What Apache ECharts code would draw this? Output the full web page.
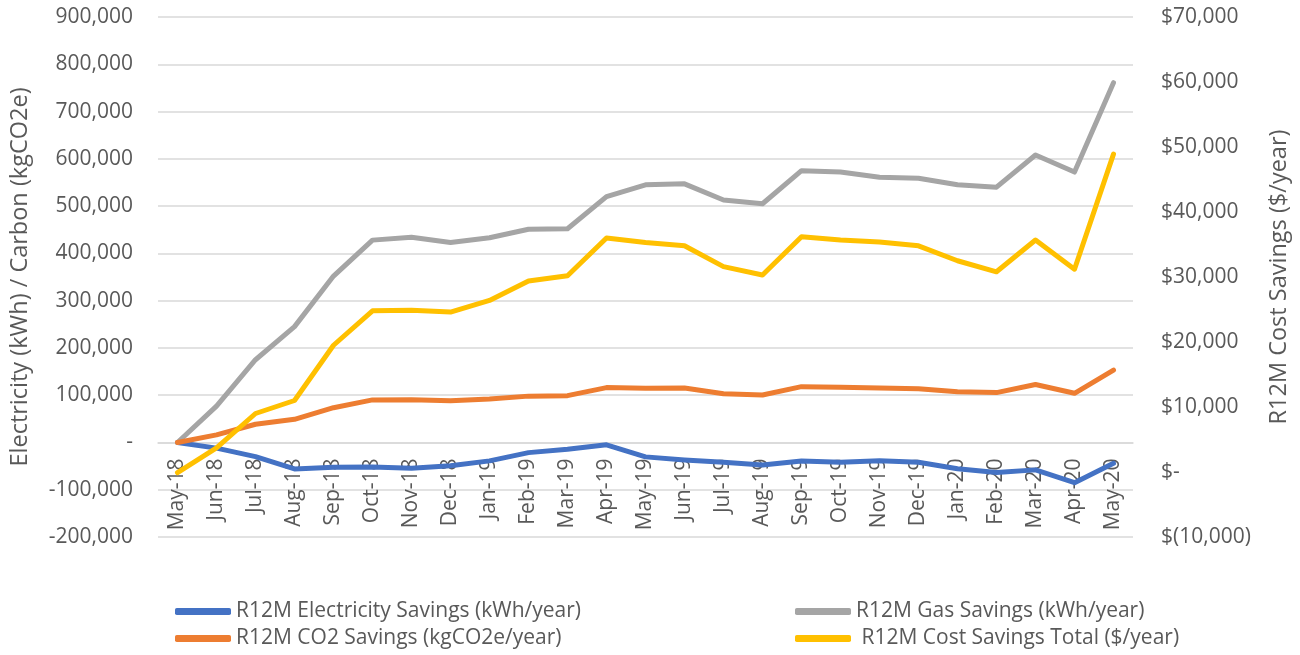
<!DOCTYPE html>
<html>
<head>
<meta charset="utf-8">
<script src="https://cdn.jsdelivr.net/npm/echarts@6/dist/echarts.min.js"></script>
<style>
  html, body { margin: 0; padding: 0; background: #fff; }
  #chart { width: 1300px; height: 655px; }
</style>
</head>
<body>
<div id="chart"></div>
<script>
// months on the x axis
const months = ["May-18", "Jun-18", "Jul-18", "Aug-18", "Sep-18", "Oct-18", "Nov-18", "Dec-18",
  "Jan-19", "Feb-19", "Mar-19", "Apr-19", "May-19", "Jun-19", "Jul-19", "Aug-19", "Sep-19",
  "Oct-19", "Nov-19", "Dec-19", "Jan-20", "Feb-20", "Mar-20", "Apr-20", "May-20"];

// kWh/year
const elecSavings = [0, -12000, -30000, -56000, -52500, -52000, -54500, -49500, -39000, -21500,
  -14500, -5000, -30500, -37000, -42000, -47500, -39000, -42000, -38500, -42000, -55500, -63500,
  -58000, -85000, -44000];
// kWh/year
const gasSavings = [0, 77000, 175000, 245000, 352000, 428000, 434000, 423000, 433000, 451000,
  452000, 520000, 545000, 547000, 513000, 505000, 575000, 572000, 561000, 559000, 545000, 540000,
  608000, 572000, 761000];
// kgCO2e/year
const co2Savings = [0, 16000, 38500, 49000, 73500, 90000, 90500, 88000, 92000, 98000, 99000,
  116000, 114500, 115000, 103000, 100500, 118000, 116800, 115300, 113500, 107500, 105500, 122500,
  104000, 153000];
// $/year (right axis)
const costSavings = [-100, 3700, 9000, 11000, 19500, 24800, 24900, 24600, 26400, 29400, 30200,
  36000, 35300, 34800, 31600, 30300, 36200, 35700, 35400, 34800, 32500, 30800, 35700, 31200, 48900];

const names = {
  elec: "R12M Electricity Savings (kWh/year)",
  gas: "R12M Gas Savings (kWh/year)",
  co2: "R12M CO2 Savings (kgCO2e/year)",
  cost: " R12M Cost Savings Total ($/year)"
};

const FONT = "Open Sans";
const TEXT = "#595959";
const GRID = "#d9d9d9";

function fmtNum(v) {
  if (v === 0) return "-";
  return v.toLocaleString("en-US");
}
function fmtMoney(v) {
  if (v === 0) return "$-";
  if (v < 0) return "$(" + Math.abs(v).toLocaleString("en-US") + ")";
  return "$" + v.toLocaleString("en-US");
}

let myChart = echarts.init(document.getElementById("chart"));

function lineSeries(name, data, color, yIndex) {
  return {
    name: name,
    type: "line",
    yAxisIndex: yIndex,
    data: data,
    symbol: "none",
    lineStyle: { color: color, width: 5, cap: "round", join: "round" },
    itemStyle: { color: color }
  };
}

// one legend per entry so the two columns sit where they do in the original
function legendAt(name, left, top) {
  return {
    left: left,
    top: top,
    data: [name],
    itemWidth: 56,
    itemHeight: 7,
    icon: "roundRect",
    textStyle: { fontFamily: FONT, fontSize: 21, color: TEXT }
  };
}

let option = {
  animation: false,
  backgroundColor: "#fff",
  grid: { left: 158, right: 167, top: 17, bottom: 118, containLabel: false },
  legend: [
    legendAt(names.elec, 170, 596),
    legendAt(names.co2, 170, 623),
    legendAt(names.gas, 790, 596),
    legendAt(names.cost, 790, 623)
  ],
  xAxis: {
    type: "category",
    data: months,
    boundaryGap: true,
    // labels hang from the zero line of the left axis
    offset: -94.5,
    axisLine: { onZero: false, lineStyle: { color: GRID, width: 1.5 } },
    axisTick: { show: false },
    axisLabel: {
      rotate: 90,
      margin: 16,
      interval: 0,
      fontFamily: FONT,
      fontSize: 21,
      color: TEXT
    },
    splitLine: { show: false }
  },
  yAxis: [
    {
      type: "value",
      min: -200000,
      max: 900000,
      interval: 100000,
      name: "Electricity (kWh) / Carbon (kgCO2e)",
      nameLocation: "middle",
      nameGap: 126,
      nameTextStyle: { fontFamily: FONT, fontSize: 23.5, color: TEXT },
      axisLine: { show: false },
      axisTick: { show: false },
      axisLabel: { formatter: fmtNum, margin: 25, fontFamily: FONT, fontSize: 21, color: TEXT },
      splitLine: { lineStyle: { color: GRID, width: 1.5 } }
    },
    {
      type: "value",
      min: -10000,
      max: 70000,
      interval: 10000,
      name: "R12M Cost Savings ($/year)",
      nameLocation: "middle",
      nameGap: 134,
      nameRotate: 90,
      nameTextStyle: { fontFamily: FONT, fontSize: 23.5, color: TEXT },
      axisLine: { show: false },
      axisTick: { show: false },
      axisLabel: { formatter: fmtMoney, margin: 28, fontFamily: FONT, fontSize: 21, color: TEXT },
      splitLine: { show: false }
    }
  ],
  series: [
    lineSeries(names.elec, elecSavings, "#4472C4", 0),
    lineSeries(names.gas, gasSavings, "#A5A5A5", 0),
    lineSeries(names.co2, co2Savings, "#ED7D31", 0),
    lineSeries(names.cost, costSavings, "#FFC000", 1)
  ]
};

myChart.setOption(option);
window.addEventListener("resize", function () {
  myChart.resize();
});
</script>
</body>
</html>
